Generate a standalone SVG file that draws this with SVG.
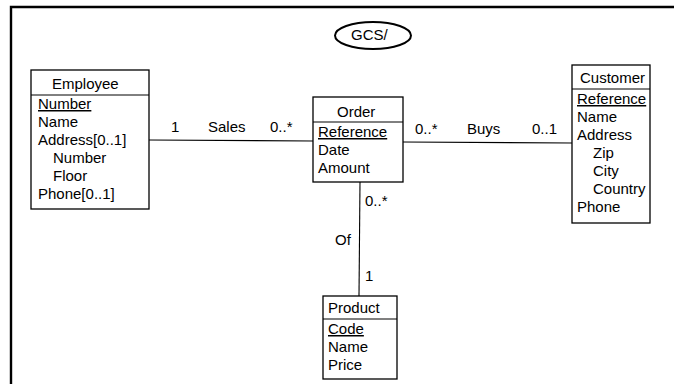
<svg xmlns="http://www.w3.org/2000/svg" width="674" height="384" viewBox="0 0 674 384">
<style>
text{font-family:"Liberation Sans",Arial,sans-serif;font-size:15px;fill:#000}
.box{fill:#fff;stroke:#000;stroke-width:1.3}
.sep{stroke:#000;stroke-width:1}
.conn line{stroke:#000;stroke-width:1.1}
.u{text-decoration:underline}
</style>
<rect width="674" height="384" fill="#fff"/>
<g id="frame"><path d="M11,384 V7 H674" fill="none" stroke="#000" stroke-width="2.4"/></g>
<g id="gcs"><ellipse cx="373" cy="35.5" rx="38" ry="13.5" fill="#fff" stroke="#000" stroke-width="2"/><text x="351" y="40">GCS/</text></g>
<g class="conn" id="connectors">
<line x1="149" y1="140" x2="313" y2="141"/>
<line x1="403" y1="142" x2="572" y2="143"/>
<line x1="360" y1="182" x2="359" y2="296"/>
<text x="171" y="132">1</text>
<text x="208" y="132">Sales</text>
<text x="270" y="132">0..*</text>
<text x="415" y="134">0..*</text>
<text x="467" y="134">Buys</text>
<text x="532" y="134">0..1</text>
<text x="365" y="206">0..*</text>
<text x="335" y="245">Of</text>
<text x="365" y="281">1</text>
</g>
<g id="employee">
<rect class="box" x="31" y="70" width="118" height="139"/>
<line class="sep" x1="31" y1="95" x2="149" y2="95"/>
<text x="52" y="89">Employee</text>
<text x="38" y="109" class="u">Number</text>
<text x="38" y="127">Name</text>
<text x="38" y="145">Address[0..1]</text>
<text x="53" y="163">Number</text>
<text x="53" y="181">Floor</text>
<text x="38" y="199">Phone[0..1]</text>
</g>
<g id="order">
<rect class="box" x="313" y="97" width="90" height="85"/>
<line class="sep" x1="313" y1="122" x2="403" y2="122"/>
<text x="337" y="117">Order</text>
<text x="318" y="137" class="u">Reference</text>
<text x="318" y="155">Date</text>
<text x="318" y="173">Amount</text>
</g>
<g id="customer">
<rect class="box" x="572" y="65" width="78" height="158"/>
<line class="sep" x1="572" y1="89" x2="650" y2="89"/>
<text x="580" y="83">Customer</text>
<text x="577" y="104" class="u">Reference</text>
<text x="577" y="122">Name</text>
<text x="577" y="140">Address</text>
<text x="593" y="158">Zip</text>
<text x="593" y="176">City</text>
<text x="593" y="194">Country</text>
<text x="577" y="212">Phone</text>
</g>
<g id="product">
<rect class="box" x="323" y="296" width="74" height="83"/>
<line class="sep" x1="323" y1="319" x2="397" y2="319"/>
<text x="328" y="313">Product</text>
<text x="328" y="334" class="u">Code</text>
<text x="328" y="352">Name</text>
<text x="328" y="370">Price</text>
</g>
</svg>
